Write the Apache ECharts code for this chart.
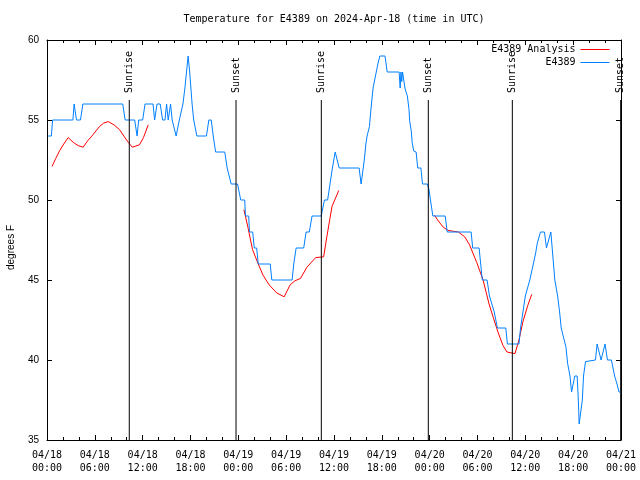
<!DOCTYPE html>
<html>
<head>
<meta charset="utf-8">
<script src="https://cdn.jsdelivr.net/npm/echarts@6/dist/echarts.min.js"></script>
<style>html,body{margin:0;padding:0;background:#fff;}#c{width:640px;height:480px;}</style>
</head>
<body>
<div id="c"></div>
<script>
// ---- data (hours since 2024-04-18 00:00 UTC, degrees F) ----
const xTickLabels = ['04/18\n00:00','04/18\n06:00','04/18\n12:00','04/18\n18:00','04/19\n00:00','04/19\n06:00','04/19\n12:00','04/19\n18:00','04/20\n00:00','04/20\n06:00','04/20\n12:00','04/20\n18:00','04/21\n00:00'];
const yTickValues = [35,40,45,50,55,60];

const observed = [[0.15,54],[0.55,54],[0.7,55],[3.25,55],[3.4,56],[3.55,56],[3.7,55],[4.2,55],[4.5,56],[9.5,56],[9.8,55],[11.0,55],[11.3,54],[11.5,55],[12.0,55],[12.3,56],[13.3,56],[13.5,55],[13.8,56],[14.2,56],[14.5,55],[14.8,55],[15.0,56],[15.2,55],[15.5,56],[15.7,55],[16.2,54],[16.4,54],[16.6,55],[17.05,56],[17.3,57],[17.5,58],[17.7,59],[17.9,58],[18.05,57],[18.2,56],[18.4,55],[18.8,54],[20.0,54],[20.3,55],[20.6,55],[20.85,54],[21.15,53],[22.3,53],[22.6,52],[22.85,52],[23.1,51],[23.9,51],[24.1,50.5],[24.3,50],[24.8,50],[24.9,49],[25.3,49],[25.4,48],[25.8,48],[26.0,47],[26.3,47],[26.5,46],[28.0,46],[28.2,45],[30.75,45],[30.95,46],[31.25,47],[32.2,47],[32.5,48],[32.9,48],[33.25,49],[34.4,49],[34.8,50],[35.2,50],[35.5,51],[35.8,52],[36.15,53],[36.4,53],[36.65,52],[39.15,52],[39.4,51],[39.65,51],[39.8,52.5],[40.0,53.5],[40.15,54],[40.3,54],[40.45,54.6],[40.6,55.5],[40.8,56.5],[40.9,57],[41.05,57],[41.1,57.5],[41.3,58],[41.5,58.5],[41.75,59],[42.4,59],[42.67,58],[44.17,58],[44.3,57],[44.4,58],[44.5,57.4],[44.6,58],[44.9,57],[45.0,56.8],[45.2,56.5],[45.4,55.7],[45.5,54.9],[45.7,54.3],[45.8,53.6],[46.0,53.06],[46.3,53],[46.4,52.5],[46.5,52],[46.9,52],[47.1,51],[47.7,51],[47.9,50.7],[48.1,50],[48.4,49],[49.95,49],[50.2,48],[53.2,48],[53.4,47],[54.2,47],[54.4,46],[54.6,45],[55.2,45],[55.5,44],[55.7,44],[56.1,43],[56.3,43],[56.5,42],[57.55,42],[57.75,41],[59.2,41],[59.4,42],[59.7,43],[60.0,44],[60.56,45],[61.0,46],[61.3,46.7],[61.5,47.3],[61.9,48],[62.4,48],[62.65,47],[62.9,47],[63.2,48],[63.45,46.5],[63.7,45],[64.05,44],[64.3,43],[64.5,42],[65.1,40.8],[65.3,39.8],[65.6,39],[65.8,38],[66.0,38],[66.2,39],[66.5,39],[66.6,38],[66.7,36.8],[66.75,36],[67.0,36],[67.15,37.5],[67.3,39],[67.55,39.9],[67.8,40],[68.8,40],[69.0,41],[69.25,41],[69.5,40],[69.75,40],[70.0,41],[70.3,40],[70.8,40],[71.0,39.5],[71.2,39],[71.5,38.5],[71.75,38],[71.9,38]];

const analysisDay1 = [[0.64,52.1],[1.1,52.6],[1.6,53.1],[2.1,53.5],[2.65,53.9],[3.3,53.6],[3.9,53.4],[4.53,53.3],[5.1,53.7],[5.8,54.1],[6.6,54.6],[7.1,54.8],[7.67,54.9],[8.4,54.7],[9.1,54.4],[9.7,53.95],[10.2,53.6],[10.7,53.3],[11.6,53.45],[12.1,53.9],[12.7,54.7]];
const analysisDay2 = [[24.7,49.4],[25.2,48.3],[25.78,46.9],[26.5,46.0],[27.1,45.3],[27.86,44.7],[28.8,44.2],[29.75,43.95],[30.5,44.7],[31.1,44.95],[31.8,45.1],[32.6,45.8],[33.7,46.4],[34.7,46.45],[35.1,47.7],[35.75,49.6],[36.6,50.6]];
const analysisDay3 = [[48.6,49.05],[49.0,48.75],[49.7,48.3],[50.3,48.1],[51.6,48.0],[52.4,47.7],[53.0,47.2],[53.9,46.1],[54.7,45.0],[55.45,43.5],[55.95,42.7],[56.6,41.7],[57.2,40.9],[57.7,40.5],[58.7,40.4],[59.2,41.25],[59.7,42.4],[60.3,43.4],[60.8,44.1]];

const sunEventHours = [10.32, 23.71, 34.41, 47.83, 58.37, 71.96];
const sunEventLabels = ['Sunrise','Sunset','Sunrise','Sunset','Sunrise','Sunset'];

// ---- chart ----
const MONO = '"DejaVu Sans Mono", monospace';
const SANS = '"Liberation Sans", Arial, sans-serif';
const chart = echarts.init(document.getElementById('c'), null, {renderer: 'canvas'});

function xAxisCfg(pos, showLabels) {
  return {
    type: 'value', position: pos, min: 0, max: 72, interval: 6,
    axisLine: {show: true, onZero: false, lineStyle: {color: '#000', width: 1}},
    axisTick: {show: true, inside: true, length: 5, lineStyle: {color: '#000'}},
    minorTick: {show: true, splitNumber: 3, length: 3, lineStyle: {color: '#000'}},
    splitLine: {show: false}, minorSplitLine: {show: false},
    axisLabel: {
      show: showLabels, margin: 9, color: '#000', fontFamily: MONO, fontSize: 10, lineHeight: 13,
      formatter: v => xTickLabels[Math.round(v / 6)]
    }
  };
}
function yAxisCfg(pos, showLabels) {
  return {
    type: 'value', position: pos, min: 35, max: 60, interval: 5,
    axisLine: {show: true, onZero: false, lineStyle: {color: '#000', width: 1}},
    axisTick: {show: true, inside: true, length: 5, lineStyle: {color: '#000'}},
    splitLine: {show: false},
    axisLabel: {show: showLabels, margin: 8, color: '#000', fontFamily: SANS, fontSize: 10,
      formatter: v => yTickValues.indexOf(v) >= 0 ? String(v) : ''},
    name: showLabels ? 'degrees F' : '',
    nameLocation: 'middle', nameGap: 31,
    nameTextStyle: {color: '#000', fontFamily: SANS, fontSize: 10, padding: [0, 15, 0, 0]}
  };
}

const RED = '#ff0000', BLUE = '#0080ff';
function analysisSeries(d) {
  return {name: 'E4389 Analysis', type: 'line', data: d, showSymbol: false, symbol: 'none',
    lineStyle: {color: RED, width: 1}, itemStyle: {color: RED}, z: 2};
}
function legendCfg(name, top) {
  return {data: [{name: name, icon: 'rect'}], right: 30.5, top: top, orient: 'vertical', align: 'right',
    padding: 0, itemWidth: 29, itemHeight: 1, selectedMode: false,
    textStyle: {fontFamily: MONO, fontSize: 10, color: '#000'}};
}

chart.setOption({
  animation: false,
  backgroundColor: '#fff',
  title: {
    text: 'Temperature for E4389 on 2024-Apr-18 (time in UTC)',
    left: 334, top: 14, textAlign: 'center', padding: 0,
    textStyle: {fontFamily: MONO, fontSize: 10, fontWeight: 'normal', color: '#000'}
  },
  grid: {left: 47, right: 19, top: 40, bottom: 40, containLabel: false, outerBoundsMode: 'none'},
  legend: [legendCfg('E4389 Analysis', 44.5), legendCfg('E4389', 57.5)],
  xAxis: [xAxisCfg('bottom', true), xAxisCfg('top', false)],
  yAxis: [yAxisCfg('left', true), yAxisCfg('right', false)],
  series: [
    analysisSeries(analysisDay1),
    analysisSeries(analysisDay2),
    analysisSeries(analysisDay3),
    {name: 'E4389', type: 'line', data: observed, showSymbol: false, symbol: 'none',
     lineStyle: {color: BLUE, width: 1}, itemStyle: {color: BLUE}, z: 3},
    {
      type: 'custom', z: 4, silent: true,
      data: sunEventHours.map((h, i) => [h, i]),
      encode: {x: 0},
      renderItem: function (params, api) {
        const h = api.value(0);
        const i = api.value(1);
        const bottom = api.coord([h, 35]);
        const top = api.coord([h, 56.25]);
        return {
          type: 'group',
          children: [
            {type: 'line', shape: {x1: bottom[0], y1: bottom[1], x2: top[0], y2: top[1]},
             style: {stroke: '#000', lineWidth: 1}},
            {type: 'text', x: top[0], y: top[1] - 7, rotation: Math.PI / 2,
             style: {text: sunEventLabels[i], fill: '#000', font: '10px ' + MONO,
                     align: 'left', verticalAlign: 'middle'}}
          ]
        };
      }
    }
  ]
});
</script>
</body>
</html>
